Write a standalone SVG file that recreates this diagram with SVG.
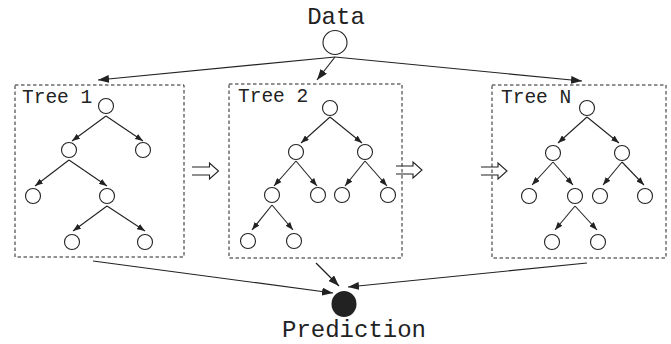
<svg xmlns="http://www.w3.org/2000/svg" width="671" height="344" viewBox="0 0 671 344">
  <style>
    .lbl { font-family: "Liberation Mono", "Courier New", monospace; fill: #222; }
    .big { font-size: 24px; }
    .tree { font-size: 19.5px; }
    .node { fill: #fff; stroke: #222; stroke-width: 1.1; }
    .box { fill: none; stroke: #222; stroke-width: 1; stroke-dasharray: 3.5 2.5; }
    .edge { fill: none; stroke: #222; stroke-width: 1.1; marker-end: url(#tip-s); }
    .link { fill: none; stroke: #222; stroke-width: 1.2; marker-end: url(#tip-l); }
    .seq { fill: none; stroke: #222; stroke-width: 1.1; }
  </style>
  <defs>
    <marker id="tip-l" markerUnits="userSpaceOnUse" markerWidth="11" markerHeight="8" refX="11" refY="4" orient="auto">
      <path d="M0,0 L11,4 L0,8 z" fill="#222"/>
    </marker>
    <marker id="tip-s" markerUnits="userSpaceOnUse" markerWidth="8" markerHeight="6" refX="8" refY="3" orient="auto">
      <path d="M0,0 L8,3 L0,6 z" fill="#222"/>
    </marker>
  </defs>

  <!-- input -->
  <g id="data">
    <text class="lbl big" x="336" y="24" text-anchor="middle">Data</text>
    <circle class="node" cx="335" cy="42.5" r="12"/>
  </g>

  <!-- tree 1 -->
  <g id="tree1">
    <rect class="box" x="15" y="85" width="169" height="172"/>
    <text class="lbl tree" x="22" y="103">Tree 1</text>
    <g class="edges">
      <path class="edge" d="M106,116 L72,141"/>
      <path class="edge" d="M106,116 L143,141"/>
      <path class="edge" d="M69,160 L35,186"/>
      <path class="edge" d="M69,160 L107,186"/>
      <path class="edge" d="M107,206 L73,231"/>
      <path class="edge" d="M107,206 L145,231"/>
    </g>
    <circle class="node" cx="106" cy="106" r="7.5"/>
    <circle class="node" cx="69" cy="150" r="7.5"/>
    <circle class="node" cx="143" cy="150" r="7.5"/>
    <circle class="node" cx="33" cy="196" r="7.5"/>
    <circle class="node" cx="107" cy="196" r="7.5"/>
    <circle class="node" cx="72" cy="242" r="7.5"/>
    <circle class="node" cx="145" cy="242" r="7.5"/>
  </g>

  <!-- tree 2 -->
  <g id="tree2">
    <rect class="box" x="229" y="84" width="173" height="174"/>
    <text class="lbl tree" x="238" y="102">Tree 2</text>
    <g class="edges">
      <path class="edge" d="M330,117 L301,143"/>
      <path class="edge" d="M330,117 L362,143"/>
      <path class="edge" d="M296,161 L274,186"/>
      <path class="edge" d="M296,161 L317,186"/>
      <path class="edge" d="M365,161 L345,186"/>
      <path class="edge" d="M365,161 L387,186"/>
      <path class="edge" d="M272,205 L252,230"/>
      <path class="edge" d="M272,205 L293,230"/>
    </g>
    <circle class="node" cx="330" cy="108" r="7.5"/>
    <circle class="node" cx="296" cy="152" r="7.5"/>
    <circle class="node" cx="365" cy="152" r="7.5"/>
    <circle class="node" cx="272" cy="195" r="7.5"/>
    <circle class="node" cx="318" cy="195" r="7.5"/>
    <circle class="node" cx="342" cy="195" r="7.5"/>
    <circle class="node" cx="388" cy="195" r="7.5"/>
    <circle class="node" cx="248" cy="241" r="7.5"/>
    <circle class="node" cx="294" cy="241" r="7.5"/>
  </g>

  <!-- tree N -->
  <g id="treeN">
    <rect class="box" x="492" y="85" width="174" height="173"/>
    <text class="lbl tree" x="501" y="103">Tree N</text>
    <g class="edges">
      <path class="edge" d="M587,117 L558,143"/>
      <path class="edge" d="M587,117 L619,143"/>
      <path class="edge" d="M553,162 L532,185"/>
      <path class="edge" d="M553,162 L573,185"/>
      <path class="edge" d="M622,162 L603,185"/>
      <path class="edge" d="M622,162 L644,185"/>
      <path class="edge" d="M575,206 L555,230"/>
      <path class="edge" d="M575,206 L597,230"/>
    </g>
    <circle class="node" cx="587" cy="108" r="7.5"/>
    <circle class="node" cx="553" cy="153" r="7.5"/>
    <circle class="node" cx="622" cy="153" r="7.5"/>
    <circle class="node" cx="529" cy="196" r="7.5"/>
    <circle class="node" cx="575" cy="196" r="7.5"/>
    <circle class="node" cx="600" cy="196" r="7.5"/>
    <circle class="node" cx="645" cy="196" r="7.5"/>
    <circle class="node" cx="552" cy="242" r="7.5"/>
    <circle class="node" cx="598" cy="242" r="7.5"/>
  </g>

  <!-- output -->
  <g id="prediction">
    <ellipse cx="344" cy="304" rx="12.5" ry="13" fill="#222"/>
    <text class="lbl big" x="354" y="337" text-anchor="middle">Prediction</text>
  </g>

  <!-- connectors -->
  <g id="connectors">
    <path class="link" d="M335,57 L98,80"/>
    <path class="link" d="M335,57 L317,80"/>
    <path class="link" d="M335,57 L582,81"/>
    <path class="link" d="M93,261 L333,293"/>
    <path class="link" d="M316,263 L339,286"/>
    <path class="link" d="M587,263 L348,287"/>
    <!-- sequential boosting arrows -->
    <path class="seq" d="M192,167 H209.5 V163 L218.5,171 L209.5,179 V175 H192"/>
    <path class="seq" d="M396,166 H413 V162 L422,170 L413,178 V174 H396"/>
    <path class="seq" d="M481,167 H498 V163 L507,171 L498,179 V175 H481"/>
  </g>
</svg>
